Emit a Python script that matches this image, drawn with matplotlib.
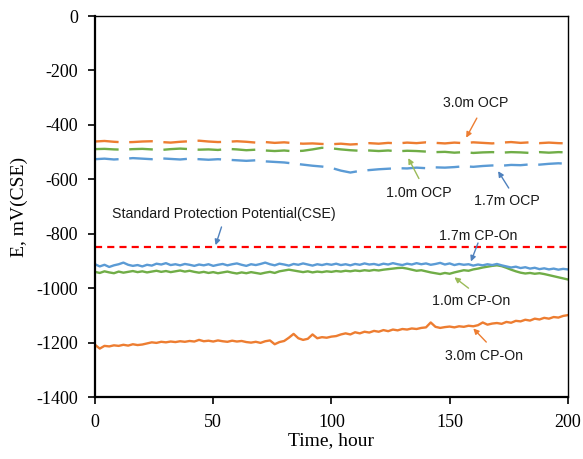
import numpy as np
import matplotlib
matplotlib.use("Agg")
import matplotlib.pyplot as plt

plt.rcParams["axes.unicode_minus"] = False

# ---------------- data ----------------
t_cp = list(range(0, 201, 2))
t_ocp = list(range(0, 201, 4))

cp_30 = [-1208, -1222, -1212, -1214, -1210, -1212, -1208, -1211, -1206, -1209,
         -1207, -1203, -1199, -1201, -1197, -1199, -1196, -1198, -1195, -1197,
         -1194, -1196, -1190, -1195, -1193, -1196, -1192, -1195, -1197, -1193,
         -1196, -1194, -1198, -1200, -1197, -1201, -1195, -1192, -1206, -1198,
         -1194, -1182, -1168, -1184, -1190, -1186, -1170, -1184, -1180, -1182,
         -1178, -1176, -1170, -1166, -1170, -1162, -1166, -1160, -1163, -1157,
         -1160, -1154, -1158, -1152, -1155, -1150, -1152, -1148, -1150, -1146,
         -1144, -1126, -1142, -1146, -1143, -1141, -1144, -1140, -1142, -1138,
         -1140, -1136, -1126, -1134, -1130, -1128, -1131, -1124, -1127, -1120,
         -1122, -1116, -1119, -1112, -1115, -1109, -1112, -1106, -1108, -1102,
         -1099]

cp_17 = [-912, -920, -914, -922, -916, -912, -906, -914, -918, -915,
         -920, -914, -917, -910, -913, -908, -915, -912, -916, -911,
         -914, -918, -913, -916, -912, -918, -914, -911, -916, -912,
         -909, -914, -918, -912, -915, -911, -906, -912, -916, -910,
         -913, -917, -911, -914, -909, -913, -917, -912, -915, -911,
         -914, -910, -915, -912, -916, -911, -914, -909, -913, -911,
         -915, -910, -913, -908, -912, -915, -910, -913, -908, -912,
         -909, -914, -911, -907, -913, -909, -915, -911, -914, -912,
         -917, -913, -916, -912, -915, -911, -916, -920, -924, -921,
         -926, -923, -928, -925, -930, -927, -931, -928, -932, -929,
         -931]

cp_10 = [-940, -944, -938, -942, -945, -939, -943, -940, -937, -941,
         -938, -942, -939, -936, -940, -937, -941, -938, -935, -939,
         -936, -940, -943, -940, -944, -941, -945, -942, -939, -943,
         -946, -942, -945, -941, -944, -947, -943, -940, -944, -938,
         -935, -932, -935, -938, -941, -938, -942, -939, -941, -938,
         -940, -937, -939, -936, -938, -935, -937, -934, -936, -933,
         -935, -932, -930, -928, -926, -925, -928, -932, -936, -934,
         -938, -942, -945, -948, -944, -947, -942, -938, -934, -936,
         -931, -928, -924, -921, -918, -916, -919, -925, -932, -938,
         -943, -946, -944, -947, -945, -948, -952, -956, -960, -964,
         -968]

ocp_30 = [-461, -459, -462, -464, -463, -461, -460, -463, -465, -462,
          -460, -458, -461, -463, -462, -460, -462, -465, -463, -466,
          -464, -467, -469, -468, -470, -471, -469, -472, -470, -467,
          -469, -466, -468, -465, -467, -464, -466, -468, -465, -467,
          -464, -466, -468, -465, -463, -466, -464, -467, -465, -467,
          -468]

ocp_10 = [-489, -488, -490, -491, -489, -488, -490, -492, -489, -487,
          -489, -491, -490, -492, -488, -490, -493, -491, -494, -496,
          -494, -497, -495, -490, -484, -486, -490, -493, -495, -494,
          -496, -494, -497, -495, -496, -498, -500, -499, -502, -500,
          -503, -501, -500, -502, -500, -501, -503, -500, -502, -500,
          -501]

ocp_17 = [-526, -524, -527, -525, -522, -524, -526, -523, -525, -527,
          -524, -526, -528, -526, -528, -530, -532, -530, -534, -536,
          -538, -542, -546, -550, -553, -558, -568, -575, -569, -566,
          -563, -561, -559, -560, -557, -559, -556, -557, -555, -552,
          -554, -551, -549, -550, -547, -548, -545, -546, -543, -541,
          -543]

standard_potential = -850

x_ticks = [0, 50, 100, 150, 200]
y_ticks = [0, -200, -400, -600, -800, -1000, -1200, -1400]

# annotations: text, text position (t, E), arrow start, arrow tip, colour
labels = [
    ("3.0m OCP", (161, -320), (161.5, -375), (157, -447), "#ED7D31"),
    ("1.0m OCP", (137, -650), (137, -597), (132.5, -522), "#9BBB59"),
    ("1.7m OCP", (174, -680), (175, -632), (170.5, -570), "#4F81BD"),
    ("Standard Protection Potential(CSE)", (7, -728), (53.5, -775), (51, -842), "#4F81BD"),
    ("1.7m CP-On", (162, -808), (162, -834), (159, -902), "#4F81BD"),
    ("1.0m CP-On", (159, -1047), (158, -1000), (152, -960), "#9BBB59"),
    ("3.0m CP-On", (164.5, -1250), (165.5, -1198), (160, -1148), "#ED7D31"),
]

# ---------------- plot ----------------
fig = plt.figure(figsize=(5.83, 4.59), dpi=100)
ax = fig.add_axes([0.163, 0.135, 0.811, 0.83])

c_orange = "#ED7D31"
c_green = "#70AD47"
c_blue = "#5B9BD5"

ax.plot(t_ocp, ocp_30, color=c_orange, lw=1.7, dashes=(10, 4.5))
ax.plot(t_ocp, ocp_10, color=c_green, lw=1.7, dashes=(10, 4.5))
ax.plot(t_ocp, ocp_17, color=c_blue, lw=1.7, dashes=(10, 4.5))

ax.plot([0, 200], [standard_potential, standard_potential], color="#FF0000",
        lw=1.6, dashes=(3.2, 2.3))

ax.plot(t_cp, cp_30, color=c_orange, lw=1.7)
ax.plot(t_cp, cp_10, color=c_green, lw=1.7)
ax.plot(t_cp, cp_17, color=c_blue, lw=1.7)

for text, tpos, astart, atip, col in labels:
    ha = "left" if text.startswith("Standard") else "center"
    ax.text(tpos[0], tpos[1], text, ha=ha, va="center", fontsize=10.2,
            family="Liberation Sans", color="#1a1a1a")
    ax.annotate("", xy=atip, xytext=astart,
                arrowprops=dict(arrowstyle="-|>", color=col, lw=1.0,
                                mutation_scale=8, shrinkA=0, shrinkB=0))

ax.set_xlim(0, 200)
ax.set_ylim(-1400, 0)
ax.set_xticks(x_ticks)
ax.set_yticks(y_ticks)
ax.tick_params(direction="out", length=5, width=1.2, labelsize=13, pad=7)
for lab in ax.get_xticklabels() + ax.get_yticklabels():
    lab.set_family("Liberation Serif")
for s in ax.spines.values():
    s.set_linewidth(1.0)
ax.spines["left"].set_linewidth(1.6)
ax.spines["bottom"].set_linewidth(1.6)

ax.set_xlabel("Time, hour", family="Liberation Serif", fontsize=14, labelpad=1)
ax.set_ylabel("E, mV(CSE)", family="Liberation Serif", fontsize=14, labelpad=6)

fig.savefig("out.png", dpi=100)
